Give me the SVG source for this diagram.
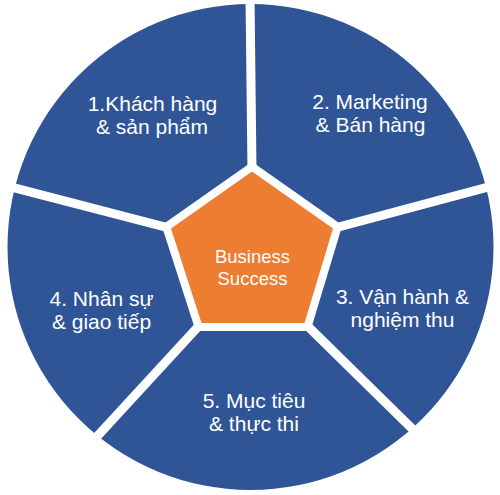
<svg xmlns="http://www.w3.org/2000/svg" width="500" height="495" viewBox="0 0 500 495">
  <style>
    .seg { fill: #2F5597; }
    .div { stroke: #FFFFFF; stroke-width: 9; stroke-linecap: butt; fill: none; }
    .lbl { font-family: "Liberation Sans", Arial, sans-serif; font-size: 21px; fill: #FFFFFF; text-anchor: middle; }
    .ctr { font-family: "Liberation Sans", Arial, sans-serif; font-size: 18.5px; fill: #FFFFFF; text-anchor: middle; }
  </style>
  <rect width="500" height="495" fill="#FFFFFF"/>
  <g id="circle">
    <circle class="seg" cx="250.5" cy="247" r="243"/>
  </g>
  <g id="connectors">
    <line class="div" x1="252" y1="171.5" x2="250" y2="-5"/>
    <line class="div" x1="171" y1="228.5" x2="-5" y2="182.8"/>
    <line class="div" x1="333" y1="228.5" x2="505" y2="182.6"/>
    <line class="div" x1="201.5" y1="323" x2="80" y2="455"/>
    <line class="div" x1="304.5" y1="323" x2="430" y2="446.3"/>
  </g>
  <g id="center">
    <polygon points="252,171.5 333,228.5 304.5,323 201.5,323 171,228.5" fill="#FFFFFF" stroke="#FFFFFF" stroke-width="16" stroke-linejoin="miter"/>
    <polygon points="252,171.5 333,228.5 304.5,323 201.5,323 171,228.5" fill="#ED7D31"/>
    <text class="ctr" x="252.5" y="263">Business</text>
    <text class="ctr" x="252.5" y="284.5">Success</text>
  </g>
  <g id="node1">
    <text class="lbl" x="152.5" y="111">1.Khách hàng</text>
    <text class="lbl" x="152" y="134">&amp; sản phẩm</text>
  </g>
  <g id="node2">
    <text class="lbl" x="370" y="109">2. Marketing</text>
    <text class="lbl" x="370.5" y="132.3">&amp; Bán hàng</text>
  </g>
  <g id="node3">
    <text class="lbl" x="402.5" y="304">3. Vận hành &amp;</text>
    <text class="lbl" x="402.5" y="327">nghiệm thu</text>
  </g>
  <g id="node4">
    <text class="lbl" x="101.5" y="306">4. Nhân sự</text>
    <text class="lbl" x="101.5" y="329">&amp; giao tiếp</text>
  </g>
  <g id="node5">
    <text class="lbl" x="254" y="407.5">5. Mục tiêu</text>
    <text class="lbl" x="254" y="430.7">&amp; thực thi</text>
  </g>
</svg>
